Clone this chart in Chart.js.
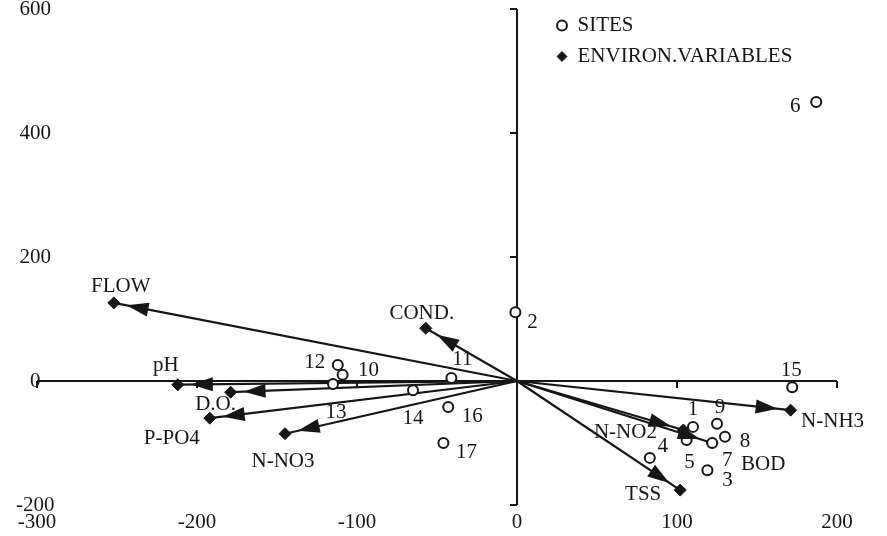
<!DOCTYPE html>
<html>
<head>
<meta charset="utf-8">
<script src="https://cdn.jsdelivr.net/npm/chart.js@4.4.0/dist/chart.umd.min.js"></script>
<style>
  html, body { margin: 0; padding: 0; background: #fff; }
  #wrap { width: 887px; height: 536px; }
</style>
</head>
<body>
<div id="wrap"><canvas id="biplot" width="887" height="536"></canvas></div>
<script>
// sites (open circles)
const siteNames = ['1', '2', '3', '4', '5', '6', '7', '8', '9', '10', '11', '12', '13', '14', '15', '16', '17'];
const siteX = [110, -1, 119, 83, 106, 187, 122, 130, 125, -109, -41, -112, -115, -65, 172, -43, -46];
const siteY = [-74, 111, -144, -124, -95, 450, -100, -90, -69, 10, 5, 26, -5, -15, -10, -42, -100];

// environmental variables (arrow tips)
const envNames = ['FLOW', 'COND.', 'pH', 'D.O.', 'P-PO4', 'N-NO3', 'N-NO2', 'BOD', 'N-NH3', 'TSS'];
const envX = [-252, -57, -212, -179, -192, -145, 104, 122, 171, 102];
const envY = [126, 85, -6, -18, -60, -85, -79, -100, -47, -176];

const xTicks = [-300, -200, -100, 0, 100, 200];
const yTicks = [-200, 0, 200, 400, 600];

// where each text label sits relative to its mark (pixels)
const siteLabelOffsets = [[0, -17], [17, 10], [20, 10], [13, -11], [3, 23], [-21, 4], [15, 17], [20, 5], [3, -16],
  [26, -4], [11, -18], [-23, -2], [3, 28], [0, 28], [-1, -17], [24, 9], [23, 9]];
const envLabelOffsets = [[7, -16], [-4, -15], [-12, -19], [-15, 12], [-38, 20], [-2, 28], [-58, 3], [51, 21], [42, 11], [-37, 4]];

const ink = '#161616';
const serif = 'Liberation Serif';

const datasets = [
  {
    label: 'SITES',
    data: siteX.map((x, i) => ({ x: x, y: siteY[i] })),
    pointStyle: 'circle',
    pointRadius: 5,
    borderWidth: 2,
    borderColor: ink,
    backgroundColor: '#fff',
    showLine: false,
    order: 0
  },
  {
    label: 'ENVIRON.VARIABLES',
    data: envX.map((x, i) => ({ x: x, y: envY[i] })),
    pointStyle: 'rectRot',
    pointRadius: 6,
    borderWidth: 1,
    borderColor: ink,
    backgroundColor: ink,
    showLine: false,
    order: 1
  }
];
// one line from the origin to each variable
envX.forEach((x, i) => {
  datasets.push({
    label: envNames[i],
    data: [{ x: 0, y: 0 }, { x: x, y: envY[i] }],
    showLine: true,
    pointRadius: 0,
    borderWidth: 2.2,
    borderColor: ink,
    arrow: true,
    order: 2
  });
});

// small tick marks on the crossing axes
const crossTicks = {
  id: 'crossTicks',
  beforeDatasetsDraw(chart) {
    const { ctx, scales: { x, y } } = chart;
    const x0 = x.getPixelForValue(0), y0 = y.getPixelForValue(0);
    ctx.save();
    ctx.strokeStyle = ink;
    ctx.lineWidth = 2;
    ctx.beginPath();
    xTicks.forEach(v => {
      if (v === 0) return;
      const px = x.getPixelForValue(v);
      ctx.moveTo(px, y0);
      ctx.lineTo(px, y0 + 7);
    });
    yTicks.forEach(v => {
      if (v === 0) return;
      const py = y.getPixelForValue(v);
      ctx.moveTo(x0, py);
      ctx.lineTo(x0 - 7, py);
    });
    ctx.stroke();
    ctx.restore();
  }
};

// arrow heads near the end of each variable line
const arrowHeads = {
  id: 'arrowHeads',
  afterDatasetsDraw(chart) {
    const { ctx } = chart;
    ctx.save();
    ctx.fillStyle = ink;
    chart.data.datasets.forEach((ds, di) => {
      if (!ds.arrow) return;
      const pts = chart.getDatasetMeta(di).data;
      const a = pts[0], b = pts[1];
      const dx = b.x - a.x, dy = b.y - a.y;
      const len = Math.hypot(dx, dy);
      const ux = dx / len, uy = dy / len;
      const tipX = b.x - ux * 13, tipY = b.y - uy * 13;
      const bx = tipX - ux * 22, by = tipY - uy * 22;
      ctx.beginPath();
      ctx.moveTo(tipX, tipY);
      ctx.lineTo(bx - uy * 7, by + ux * 7);
      ctx.lineTo(bx + uy * 7, by - ux * 7);
      ctx.closePath();
      ctx.fill();
    });
    ctx.restore();
  }
};

// names next to sites and variables
const pointNames = {
  id: 'pointNames',
  afterDatasetsDraw(chart) {
    const { ctx } = chart;
    ctx.save();
    ctx.fillStyle = ink;
    ctx.font = '21px "' + serif + '"';
    ctx.textAlign = 'center';
    ctx.textBaseline = 'middle';
    chart.getDatasetMeta(0).data.forEach((p, i) => {
      ctx.fillText(siteNames[i], p.x + siteLabelOffsets[i][0], p.y + siteLabelOffsets[i][1]);
    });
    chart.getDatasetMeta(1).data.forEach((p, i) => {
      ctx.fillText(envNames[i], p.x + envLabelOffsets[i][0], p.y + envLabelOffsets[i][1]);
    });
    ctx.restore();
  }
};

// move the legend to the upper right inside the plot
const legendSpot = {
  id: 'legendSpot',
  afterLayout(chart) {
    chart.legend.left = 547;
    chart.legend.top = 5;
  }
};

const zeroLine = (c) => (c.tick && c.tick.value === 0) ? ink : 'rgba(0,0,0,0)';

new Chart(document.getElementById('biplot').getContext('2d'), {
  type: 'scatter',
  data: { datasets: datasets },
  options: {
    responsive: false,
    animation: false,
    layout: { padding: { top: 9, right: 50, bottom: 0, left: 0 } },
    scales: {
      x: {
        type: 'linear',
        min: -300,
        max: 200,
        afterBuildTicks: (s) => { s.ticks = xTicks.map(v => ({ value: v })); },
        afterFit: (s) => { s.height = 31; },
        grid: { color: zeroLine, lineWidth: 2, drawTicks: false },
        border: { display: false },
        ticks: { color: ink, padding: 5, font: { family: serif, size: 21 }, maxRotation: 0 }
      },
      y: {
        type: 'linear',
        min: -200,
        max: 600,
        afterBuildTicks: (s) => { s.ticks = yTicks.map(v => ({ value: v })); },
        afterFit: (s) => { s.width = 37; },
        grid: { color: zeroLine, lineWidth: 2, drawTicks: false },
        border: { display: false },
        ticks: { color: ink, mirror: true, crossAlign: 'center', padding: -21, font: { family: serif, size: 21 } }
      }
    },
    plugins: {
      tooltip: { enabled: false },
      legend: {
        position: 'chartArea',
        align: 'start',
        labels: {
          usePointStyle: true,
          boxWidth: 10,
          boxHeight: 7,
          padding: 10,
          color: ink,
          font: { family: serif, size: 21 },
          filter: (item) => item.datasetIndex < 2
        }
      }
    }
  },
  plugins: [crossTicks, arrowHeads, pointNames, legendSpot]
});
</script>
</body>
</html>
